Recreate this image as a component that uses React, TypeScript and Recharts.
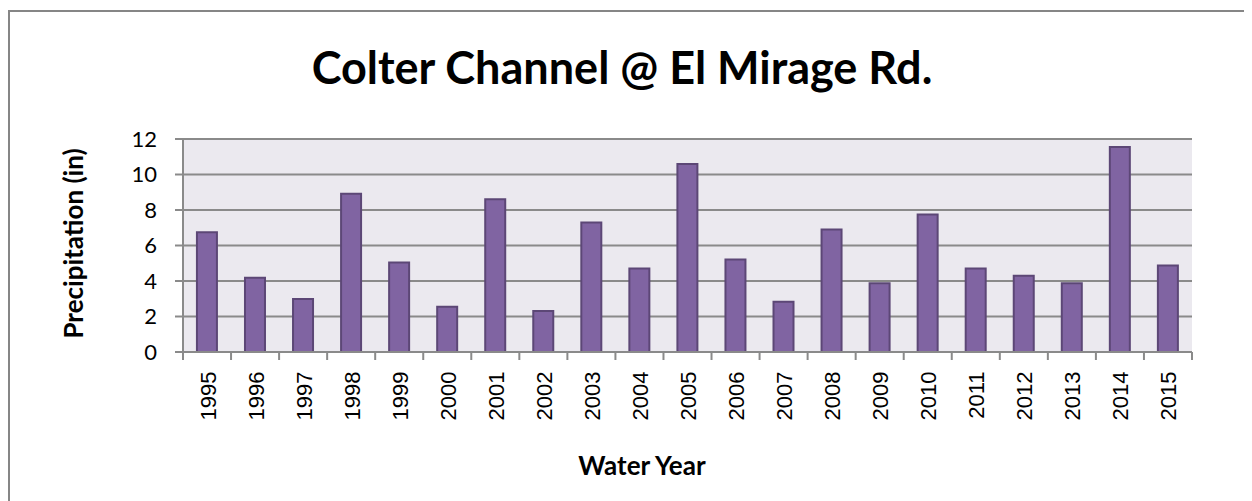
import React from "react";
import { BarChart, Bar, XAxis, YAxis, CartesianGrid } from "recharts";

const years = ["1995","1996","1997","1998","1999","2000","2001","2002","2003","2004","2005","2006","2007","2008","2009","2010","2011","2012","2013","2014","2015"];
const precipitation = [6.75, 4.18, 2.98, 8.92, 5.04, 2.55, 8.6, 2.31, 7.29, 4.7, 10.59, 5.21, 2.83, 6.9, 3.88, 7.74, 4.7, 4.29, 3.88, 11.55, 4.87];
const yTicks = [0, 2, 4, 6, 8, 10, 12];

const data = years.map((y, i) => ({ year: y, value: precipitation[i] }));

const W = 1244;
const H = 493;

const XTick = (props: any) => {
  const { x, y, payload, index, width } = props;
  const step = width / years.length;
  const half = step / 2;
  const top = y - 8;
  return (
    <g>
      <line x1={x - half} y1={top} x2={x - half} y2={top + 8} stroke="#8a8a8a" strokeWidth={2} />
      {index === years.length - 1 && (
        <line x1={x + half} y1={top} x2={x + half} y2={top + 8} stroke="#8a8a8a" strokeWidth={2} />
      )}
      <text
        transform={`translate(${x + 8.5}, ${top + 19.5}) rotate(-90)`}
        textAnchor="end"
        fontFamily="'Liberation Sans', Arial, sans-serif"
        fontSize={22}
        fill="#000"
      >
        {payload.value}
      </text>
    </g>
  );
};

export default function App() {
  return (
    <div style={{ position: "relative", width: W, height: H, background: "#fff" }}>
      <style>{`html, body { overflow: hidden; }`}</style>
      <div style={{ position: "absolute", left: 0, top: 2, width: W, height: 2, background: "#868686" }} />
      <div style={{ position: "absolute", left: 0, top: 2, width: 2, height: H - 2, background: "#868686" }} />
      <div style={{ position: "absolute", left: 0, top: 0 }}>
        <BarChart
          width={W}
          height={H}
          data={data}
          margin={{ top: 131, right: 60, bottom: 49, left: 115 }}
          barCategoryGap="29%"
        >
          <CartesianGrid vertical={false} stroke="#8a8a8a" strokeWidth={2} fill="#EBE9EF" />
          <XAxis
            dataKey="year"
            height={100}
            tickLine={false}
            axisLine={{ stroke: "#8a8a8a", strokeWidth: 2 }}
            tick={<XTick />}
            interval={0}
          />
          <YAxis
            width={60}
            domain={[0, 12]}
            ticks={yTicks}
            tickSize={8}
            tickMargin={18}
            tickLine={{ stroke: "#8a8a8a", strokeWidth: 2 }}
            axisLine={{ stroke: "#8a8a8a", strokeWidth: 2 }}
            tick={{ fontFamily: "Lato, 'Open Sans', sans-serif", fontSize: 22, fill: "#000" }}
          />
          <Bar
            dataKey="value"
            fill="#8064A2"
            stroke="#5C4776"
            strokeWidth={2}
            isAnimationActive={false}
          />
          <text x={614} y={76} textAnchor="middle" fontFamily="Lato, sans-serif" fontWeight="bold" fontSize={45} fill="#000">
            Colter Channel @ El Mirage Rd.
          </text>
          <text
            transform="translate(75, 235.5) rotate(-90)"
            textAnchor="middle"
            fontFamily="Lato, sans-serif"
            fontWeight="bold"
            fontSize={26}
            fill="#000"
          >
            Precipitation (in)
          </text>
          <text x={634} y={467} textAnchor="middle" fontFamily="Lato, sans-serif" fontWeight="bold" fontSize={26} fill="#000">
            Water Year
          </text>
        </BarChart>
      </div>
    </div>
  );
}
